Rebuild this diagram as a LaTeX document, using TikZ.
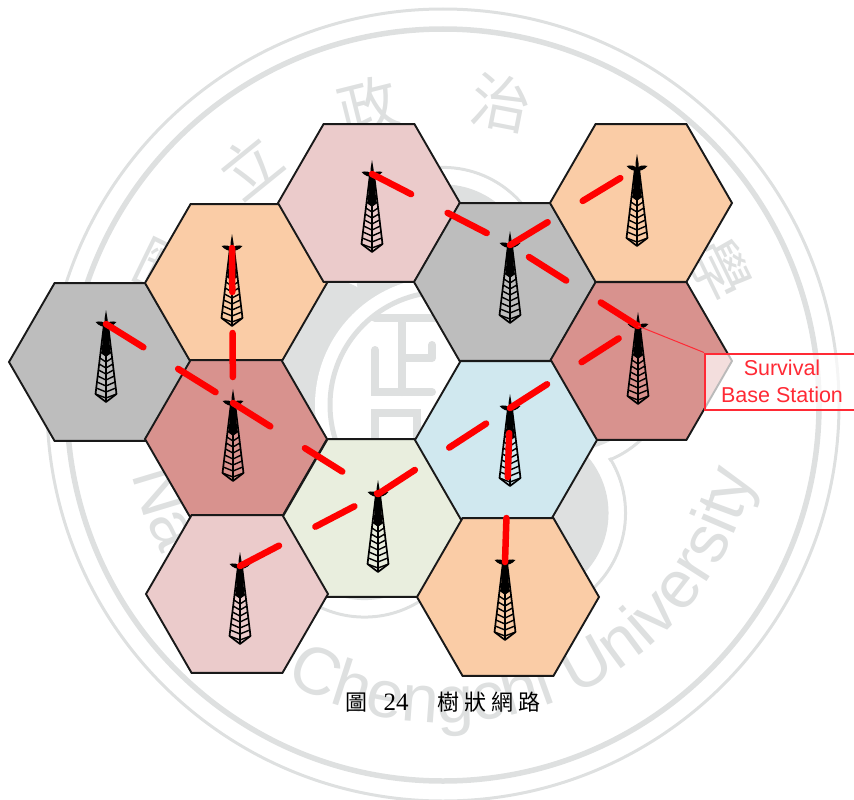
\documentclass[tikz,border=0pt]{standalone}
\usepackage{fontspec}
\usetikzlibrary{shapes.geometric,decorations.text}
\newfontfamily\cjkfont{Noto Sans CJK TC}
\newfontfamily\labelfont{Liberation Sans}
\newfontfamily\captionfont{Liberation Serif}
\definecolor{sealgray}{HTML}{DEE0E0}
\definecolor{cellgray}{HTML}{BDBDBD}
\definecolor{cellorange}{HTML}{FACCA6}
\definecolor{cellpink}{HTML}{EBCBCB}
\definecolor{cellred}{HTML}{D8928E}
\definecolor{cellblue}{HTML}{D0E8EF}
\definecolor{cellgreen}{HTML}{E9EEDE}
\definecolor{callred}{HTML}{FF2A35}
\newcommand{\sealsans}{\labelfont\fontsize{67}{67}\selectfont\color{sealgray}}
\begin{document}
\begin{tikzpicture}[x=1pt, y=-1pt,
  cell/.style = {regular polygon, regular polygon sides=6,
                 minimum size=182pt, inner sep=0pt, draw=black!90, line width=1.9pt},
  link/.style = {red, line width=6.5pt, line cap=round, dash pattern=on 44pt off 41pt},
  callout/.style = {draw=callred, draw opacity=1, line width=2pt, fill=white, fill opacity=0.7,
                    text opacity=1, text=callred, minimum width=154pt, minimum height=56pt,
                    inner sep=0pt, align=center, font=\labelfont\fontsize{21.5}{26.5}\selectfont},
  tower/.pic = {
    \fill (-2,0) -- (2,0) -- (4.5,30) -- (-4.5,30) -- cycle;
    \fill (0,-14) -- (1.5,-5) -- (1.5,0) -- (-1.5,0) -- (-1.5,-5) -- cycle;
    \fill (-10.5,-2) .. controls (-6,-3) and (-2,-3) .. (0,1) .. controls (2,-3) and (6,-3) .. (10.5,-2)
          .. controls (7,2) and (3,3) .. (0,3) .. controls (-3,3) and (-7,2) .. (-10.5,-2) -- cycle;
    \draw[line width=1.7pt, line join=round] (-2,0) -- (-10.5,70) -- (0,78) -- (10.5,70) -- (2,0);
    \draw[line width=1.5pt] (0,0) -- (0,78);
    \foreach \h in {28,34,...,70}
      \draw[line width=1.4pt] ({-2-8.5*\h/70},\h) -- (0,\h+4) -- ({2+8.5*\h/70},\h);
  },
  ]
  \clip (0,0) rectangle (854,800);
  % seal behind the cells
  \draw[sealgray, line width=3pt] (443,405) circle[radius=396];
  \draw[sealgray, line width=5.5pt] (443,405) circle[radius=376];
  \foreach \a in {90,162,234,306,378}
    \draw[sealgray, line width=3pt] ({443+133.6*cos(\a)},{405-133.6*sin(\a)}) circle[radius=104];
  \foreach \a in {90,162,234,306,378}
    \fill[white] ({443+133.6*cos(\a)},{405-133.6*sin(\a)}) circle[radius=102];
  \foreach \a in {90,162,234,306,378}
    \fill[sealgray] ({443+133.6*cos(\a)},{405-133.6*sin(\a)}) circle[radius=87];
  \fill[white] (443,405) circle[radius=128];
  \draw[sealgray, line width=5pt] (443,405) circle[radius=113];
  \draw[sealgray, line width=8pt, line cap=round] (375,318) -- (436,318) (402,318) -- (402,392)
    (402,358) -- (432,358) (432,345) -- (432,358) (375,350) -- (375,392) -- (432,392);
  \draw[sealgray, line width=8pt] (375,445) -- (375,413) -- (417,413) -- (417,445);
  \foreach \g/\a in {國/-64, 立/-39, 政/-14, 治/11, 大/38, 學/64}
    \node[sealgray, font=\cjkfont\fontsize{60}{60}\selectfont, rotate=-\a, inner sep=0pt]
      (seal\a) at ({443+308*sin(\a)},{405-308*cos(\a)}) {\g};
  \path[decorate, decoration={text along path, text align=center,
        text={|\sealsans|National Chengchi University}}]
    (443,405) ++(175:318) arc[start angle=175, end angle=5, radius=318];

  % cells
  \foreach \name/\x/\y/\col in {left/100/362/cellgray, upper/236/283/cellorange, top/369/203/cellpink,
      mid/505/282/cellgray, corner/641/203/cellorange, base/641/361/cellred, west/236/439/cellred,
      south/373/518/cellgreen, east/506/440/cellblue, low/237/594/cellpink, foot/508/597/cellorange}
    \node[cell, fill=\col] (\name) at (\x,\y) {};

  % towers
  \foreach \name/\x/\y in {a/106/324, b/232/248, c/372/174, d/510/245, e/637/168, f/638/326,
      g/233/403, h/378/494, i/510/408, j/240/566, k/505/562} {
    \coordinate (\name) at (\x,\y);
    \pic at (\name) {tower};
  }

  % tree links
  \foreach \from/\to in {c/d, d/e, f/d, i/f, h/i, j/h, g/h, a/g, b/g, k/i}
    \draw[link] (\from) -- (\to);

  \node[callout] (survival) at (782,381.5) {Survival\\Base Station};
  \draw[callred, line width=1pt] (f) -- (survival.north west);

  \node[inner sep=0pt, font=\fontsize{22}{22}\selectfont] (caption) at (443,702)
    {\cjkfont 圖\hskip16pt{\captionfont\fontsize{25}{25}\selectfont 24}\hskip29pt 樹\hskip5pt 狀\hskip5pt 網\hskip5pt 路};
\end{tikzpicture}
\end{document}
